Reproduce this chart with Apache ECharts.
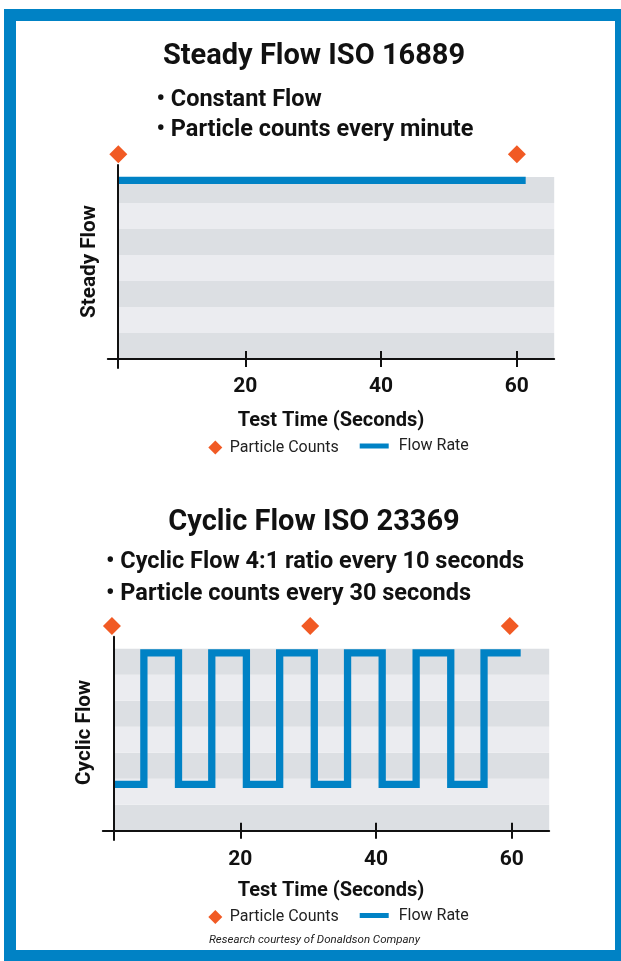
<!DOCTYPE html>
<html><head><meta charset="utf-8">
<script src="https://cdn.jsdelivr.net/npm/echarts@6/dist/echarts.min.js"></script>
<style>html,body{margin:0;padding:0;background:#fff}#c{width:621px;height:961px}</style>
</head><body><div id="c"></div>
<script>
// ---------- data ----------
const tickValues = [20, 40, 60];
const steadyCountTimes = [1.3, 60];
const steadyFlowTimes = [1.25, 61.3];
const steadyFlowLevels = [6.87, 6.87];
const cyclicCountTimes = [1.1, 30.3, 59.7];
const cyclicFlowTimes = [1.3, 5.8, 10.9, 15.8, 20.9, 25.8, 30.9, 35.8, 40.9, 45.9, 51.0, 55.9, 61.3];
const cyclicFlowLevels = [1.78, 6.84, 1.78, 6.84, 1.78, 6.84, 1.78, 6.84, 1.78, 6.84, 1.78, 6.84, 6.84];
const countLevel = 7.87;
const bandStarts = [0, 1, 2, 3, 4, 5, 6];
const yAxisAtTime = [1.25, 1.3];
const xMin = -0.25, xMax = 65.5, yMin = [-0.346, -0.358], yMax = 7.46;

// ---------- styles ----------
const BLUE = '#0082c5', ORANGE = '#f15a24', INK = '#111';
const BAND_DARK = '#dcdfe3', BAND_LIGHT = '#ebecf0';
const F = 'Roboto', NARROW = "'Liberation Sans Narrow', Roboto";
const grids = [
  {left: 107.8, top: 165, width: 446.4, height: 203},
  {left: 102.8, top: 636.7, width: 446.4, height: 203.3}
];
const pxPerUnit = 446.4 / (xMax - xMin);

function bands(g) {
  return bandStarts.map((lo, i) => [
    {xAxis: yAxisAtTime[g], yAxis: lo, itemStyle: {color: i % 2 === 0 ? BAND_DARK : BAND_LIGHT, opacity: 1}},
    {xAxis: xMax, yAxis: lo + 1}
  ]);
}
function xAxes(g, name, gap, margin, namePad) {
  return [
    {gridIndex: g, type: 'value', position: 'bottom', min: xMin, max: xMax, z: 10,
     axisLine: {onZero: true, onZeroAxisIndex: g, lineStyle: {color: INK, width: 2}},
     axisTick: {customValues: tickValues, length: 8, lineStyle: {color: INK, width: 2}},
     axisLabel: {customValues: tickValues, margin: margin, fontSize: 21, fontWeight: 'bold', fontFamily: NARROW, color: INK, lineHeight: 21},
     splitLine: {show: false},
     name: name, nameLocation: 'middle', nameGap: gap,
     nameTextStyle: {fontSize: 20, fontWeight: 'bold', fontFamily: F, color: INK, lineHeight: 20, padding: namePad}},
    {gridIndex: g, type: 'value', position: 'bottom', min: xMin, max: xMax, z: 10,
     axisLine: {show: false, onZero: true, onZeroAxisIndex: g},
     axisTick: {customValues: tickValues, inside: true, length: 8, lineStyle: {color: INK, width: 2}},
     axisLabel: {show: false}, splitLine: {show: false}}
  ];
}
function yAxis(g, name, pad) {
  return {gridIndex: g, type: 'value', min: yMin[g], max: yMax, z: 10,
    offset: -(yAxisAtTime[g] - xMin) * pxPerUnit,
    axisLine: {show: true, onZero: false, lineStyle: {color: INK, width: 2}},
    axisTick: {show: false}, axisLabel: {show: false}, splitLine: {show: false},
    name: name, nameLocation: 'middle', nameGap: 18, nameRotate: 90,
    nameTextStyle: {fontSize: 20.7, fontWeight: 'bold', fontFamily: F, color: INK, lineHeight: 21, padding: pad}};
}
function seriesFor(g, countTimes, flowTimes, flowLevels, step) {
  return [
    {type: 'line', xAxisIndex: 2 * g, yAxisIndex: g, data: [], silent: true, z: 1,
     markArea: {silent: true, data: bands(g)}},
    {name: 'Flow Rate', type: 'line', xAxisIndex: 2 * g, yAxisIndex: g, z: 3,
     data: flowTimes.map((t, i) => [t, flowLevels[i]]), step: step,
     showSymbol: false, color: BLUE, itemStyle: {color: BLUE},
     lineStyle: {color: BLUE, width: 7.3, cap: 'butt', join: 'miter'}},
    {name: 'Particle Counts', type: 'scatter', xAxisIndex: 2 * g, yAxisIndex: g, z: 4, clip: false,
     data: countTimes.map(t => [t, countLevel]), symbol: 'diamond', symbolSize: 18,
     itemStyle: {color: ORANGE, opacity: 1}}
  ];
}
const titleText = {fontFamily: F, fontWeight: 'bold', color: INK};
function legends(top) {
  const ts = {fontSize: 16, fontFamily: F, color: '#222', lineHeight: 16};
  return [
    {data: [{name: 'Particle Counts', icon: 'path://M5,0L10,5L5,10L0,5Z'}], left: 208.3, top: top,
     itemWidth: 19, itemHeight: 14, padding: 0, selectedMode: false, textStyle: ts,
     itemStyle: {color: ORANGE, opacity: 1}},
    {data: [{name: 'Flow Rate', icon: 'path://M0,0H29V5H0Z'}], left: 359.7, top: top - 1.5,
     itemWidth: 39, itemHeight: 5, padding: 0, selectedMode: false, textStyle: ts,
     itemStyle: {color: BLUE, opacity: 1}}
  ];
}

const option = {
  animation: false,
  backgroundColor: '#fff',
  graphic: [{type: 'rect', z: 100, shape: {x: 10, y: 15, width: 611, height: 941},
             style: {fill: null, stroke: BLUE, lineWidth: 12}}],
  title: [
    {text: 'Steady Flow ISO 16889', left: 314, top: 40, textAlign: 'center', textVerticalAlign: 'top', padding: 0,
     textStyle: Object.assign({fontSize: 29, lineHeight: 34}, titleText)},
    {text: '• Constant Flow\n• Particle counts every minute', left: 156.5, top: 84.5, textVerticalAlign: 'top', padding: 0,
     textStyle: Object.assign({fontSize: 23.5, lineHeight: 30.5}, titleText)},
    {text: 'Cyclic Flow ISO 23369', left: 314, top: 505.5, textAlign: 'center', textVerticalAlign: 'top', padding: 0,
     textStyle: Object.assign({fontSize: 29, lineHeight: 34}, titleText)},
    {text: '• Cyclic Flow 4:1 ratio every 10 seconds\n• Particle counts every 30 seconds', left: 106, top: 546.5, textVerticalAlign: 'top', padding: 0,
     textStyle: Object.assign({fontSize: 23.5, lineHeight: 31.5}, titleText)},
    {text: 'Research courtesy of Donaldson Company', left: 314.5, top: 934, textAlign: 'center', textVerticalAlign: 'top', padding: 0,
     textStyle: {fontFamily: F, fontStyle: 'italic', fontWeight: 'normal', fontSize: 11.5, lineHeight: 13, color: '#222'}}
  ],
  legend: legends(439.5).concat(legends(909)),
  grid: grids,
  xAxis: xAxes(0, 'Test Time (Seconds)', 42.5, 8.5, [0, 0, 0, 0]).concat(xAxes(1, 'Test Time (Seconds)', 40.5, 9.5, [0, 0, 0, 10])),
  yAxis: [yAxis(0, 'Steady Flow', [0, 0, 0, 10]), yAxis(1, 'Cyclic Flow', [0, 0, 0, 12])],
  series: seriesFor(0, steadyCountTimes, steadyFlowTimes, steadyFlowLevels, false)
    .concat(seriesFor(1, cyclicCountTimes, cyclicFlowTimes, cyclicFlowLevels, 'end'))
};
const chart = echarts.init(document.getElementById('c'), null, {renderer: 'canvas'});
chart.setOption(option);
</script></body></html>
